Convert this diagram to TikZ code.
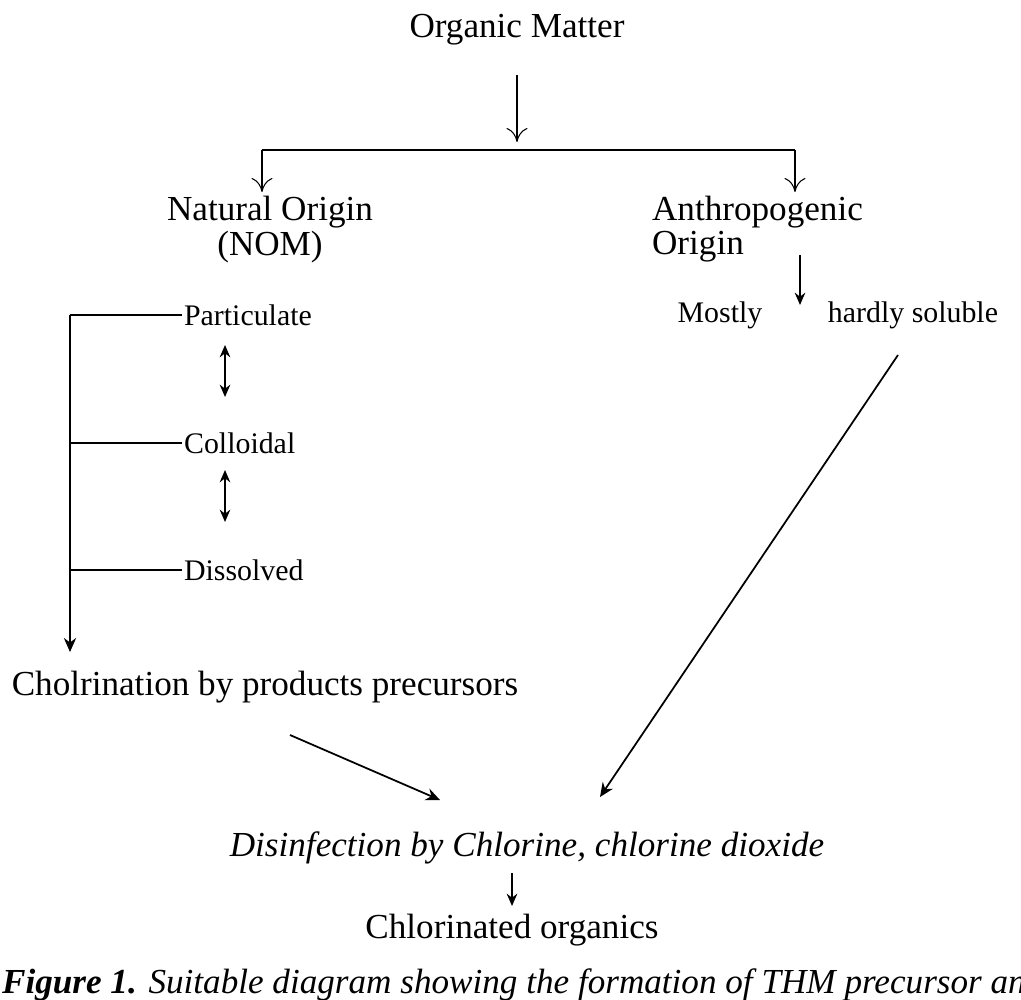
\documentclass[tikz,border=0pt]{standalone}
\usepackage{fontspec}
\setmainfont{Liberation Serif}
\usetikzlibrary{arrows.meta, positioning}
\tikzset{
  big/.style={font=\fontsize{20}{24}\selectfont, inner sep=1pt},
  small/.style={font=\fontsize{17}{20}\selectfont, inner sep=1pt},
  thinarr/.style={-{To[length=8pt,width=12pt]}, line width=0.6pt},
  solidarr/.style={-{Stealth[length=7pt,width=6pt]}, line width=1pt}
}
\begin{document}
\begin{tikzpicture}[x=0.02cm, y=-0.02cm]
\useasboundingbox (0,0) rectangle (1021,1000);
% top
\node[big] (om) at (517,30) {Organic Matter};
\coordinate (split) at (517,142);
\draw[thinarr] (517,75) -- (split);
\coordinate (lt) at (262,150);
\coordinate (rt) at (795,150);
\draw[line width=0.6pt] (lt) -- (rt);
\node[big] (nat) at (270,212) {Natural Origin};
\node[big] (nom) at (270,247) {(NOM)};
\node[big, anchor=west] (anth) at (650,212) {Anthropogenic};
\node[big, anchor=west] (orig) at (650,247) {Origin};
\draw[thinarr] (lt) -- (262,192);
\draw[thinarr] (rt) -- (795,192);
% anthropogenic branch
\node[small] (mostly) at (720,315) {Mostly};
\node[small] (hard) at (913,315) {hardly soluble};
\draw[solidarr] (800,255) -- (800,305);
% natural branch
\node[small, anchor=west] (part) at (182,315) {Particulate};
\node[small, anchor=west] (coll) at (182,443) {Colloidal};
\node[small, anchor=west] (diss) at (182,570) {Dissolved};
\draw[solidarr, {Stealth[length=7pt,width=6pt]}-{Stealth[length=7pt,width=6pt]}] (225,345) -- (225,397);
\draw[solidarr, {Stealth[length=7pt,width=6pt]}-{Stealth[length=7pt,width=6pt]}] (225,470) -- (225,522);
\coordinate (bt) at (70,315);
\coordinate (bm) at (70,443);
\coordinate (bb) at (70,570);
\draw[line width=0.6pt] (part.west) -- (bt);
\draw[line width=0.6pt] (coll.west) -- (bm);
\draw[line width=0.6pt] (diss.west) -- (bb);
\node[big] (prec) at (265,687) {Cholrination by products precursors};
\draw[solidarr, -{Stealth[length=8pt,width=7pt]}, line width=0.6pt] (bt) -- (70,652);
% bottom
\node[big, font=\fontsize{20}{24}\selectfont\itshape] (dis) at (527,848) {Disinfection by Chlorine, chlorine dioxide};
\node[big] (cl) at (512,930) {Chlorinated organics};
\draw[solidarr, -{Stealth[length=8pt,width=7pt]}] (290,735) -- (440,800);
\draw[solidarr, -{Stealth[length=8pt,width=7pt]}] (898,355) -- (600,797);
\draw[solidarr] (512,873) -- (512,906);
% caption
\node[big, anchor=west] (cap) at (0,985) {\textbf{\textit{Figure 1.}} \textit{Suitable diagram showing the formation of THM precursor and}};
\end{tikzpicture}
\end{document}
